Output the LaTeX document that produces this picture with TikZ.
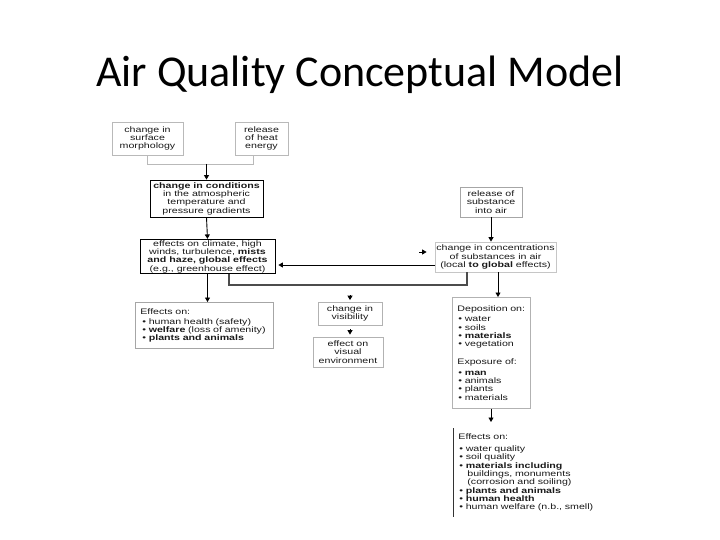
\documentclass[tikz,border=0pt]{standalone}
\usepackage{fontspec}
\setmainfont{Liberation Sans}
\newfontfamily\boxfont[FakeStretch=1.33]{Liberation Sans}
\newfontfamily\titlefont{Carlito}
\usetikzlibrary{arrows.meta}
\begin{document}
\begin{tikzpicture}[x=1pt,y=-1pt,
  box/.style={draw, line width=0.8pt, font={\boxfont\fontsize{8pt}{8.3pt}\selectfont}, align=center, inner sep=1pt, text=black!90},
  lbox/.style={box, align=left, anchor=north west, inner xsep=5pt},
  arr/.style={-{Triangle[length=4.5pt,width=5pt]}, line width=0.9pt, black},
  bracket/.style={line width=1.2pt, black!70},
  pale/.style={line width=0.9pt, gray!55}]
\useasboundingbox (0,0) rectangle (720,540);

\node[font={\titlefont\fontsize{44pt}{52pt}\selectfont}, anchor=base] (title) at (360,87) {Air Quality Conceptual Model};

% left column
\node[box, draw=gray!55, minimum width=71pt, minimum height=33pt] (surf) at (147.5,138.5) {change in\\surface\\morphology};
\node[box, draw=gray!55, minimum width=53pt, minimum height=33pt] (heat) at (261.5,138.5) {release\\of heat\\energy};
\node[box, minimum width=113pt, minimum height=37pt] (cond) at (206.5,198.5) {{\bfseries change in conditions}\\in the atmospheric\\temperature and\\pressure gradients};
\node[box, minimum width=135pt, minimum height=33pt] (clim) at (207.5,256.5) {effects on climate, high\\winds, turbulence, {\bfseries mists}\\{\bfseries and haze, global effects}\\(e.g., greenhouse effect)};
\node[lbox, draw=gray!70, text width=128pt, minimum height=46pt] (eff1) at (135,302) {Effects on:\\[2pt]\hspace*{2pt}• human health (safety)\\\hspace*{2pt}• {\bfseries welfare} (loss of amenity)\\\hspace*{2pt}• {\bfseries plants and animals}};

% middle column
\node[box, draw=gray!60, minimum width=64pt, minimum height=23pt] (vis) at (350,313.5) {change in\\visibility};
\node[box, draw=gray!60, minimum width=70pt, minimum height=30pt] (veff) at (348,352) {effect on\\visual\\environment};

% right column
\node[box, draw=gray!70, minimum width=62pt, minimum height=30pt] (rel) at (491,202) {release of\\substance\\into air};
\node[box, draw=gray!45, minimum width=121pt, minimum height=30pt] (conc) at (495.5,257) {change in concentrations\\of substances in air\\(local {\bfseries to global} effects)};
\node[lbox, draw=gray!60, text width=68pt, minimum height=111pt] (dep) at (452,297) {Deposition on:\\[2pt]\hspace*{1pt}• water\\\hspace*{1pt}• soils\\\hspace*{1pt}• {\bfseries materials}\\\hspace*{1pt}• vegetation\\[10pt]Exposure of:\\[2pt]\hspace*{1pt}• {\bfseries man}\\\hspace*{1pt}• animals\\\hspace*{1pt}• plants\\\hspace*{1pt}• materials};
\node[lbox, draw=none, text width=135pt, minimum height=88pt] (eff3) at (453,428) {Effects on:\\[4pt]\hspace*{1pt}• water quality\\\hspace*{1pt}• soil quality\\\hspace*{1pt}• {\bfseries materials including}\\\hspace*{9pt}buildings, monuments\\\hspace*{9pt}(corrosion and soiling)\\\hspace*{1pt}• {\bfseries plants and animals}\\\hspace*{1pt}• {\bfseries human health}\\\hspace*{1pt}• human welfare (n.b., smell)};
\draw[line width=0.9pt, black!80] (eff3.north west) -- (eff3.south west);

% helper coordinates
\coordinate (j1) at (206.5,164);
\coordinate (hx) at (253,0);
\coordinate (lk) at (0,265);
\coordinate (ptr) at (419,252);
\coordinate (bx1) at (229,0);
\coordinate (bj) at (350,285);
\coordinate (bx2) at (467,0);
\coordinate (dx) at (498,0);
\coordinate (ex) at (491,0);

% connectors
\draw[pale] (surf.south) |- (hx |- j1) -- (heat.south -| hx);
\draw[arr] (j1) -- (cond.north);
\draw[arr] (cond.south) -- (clim.north);
\draw[arr] (clim.south) -- (eff1.north -| clim.south);
\draw[arr, shorten >=3pt] (conc.west |- lk) -- (clim.east |- lk);
\draw[arr, shorten >=8pt] (ptr) -- (conc.west |- ptr);
\draw[arr] (rel.south) -- (conc.north -| rel.south);
\draw[bracket] (clim.south -| bx1) |- (bj) -| (conc.south -| bx2);
\draw[arr, shorten <=10pt, shorten >=1.5pt] (bj) -- (vis.north);
\draw[arr, shorten <=4pt, shorten >=2pt] (vis.south) -- (veff.north -| vis.south);
\draw[arr] (conc.south -| dx) -- (dep.north -| dx);
\draw[arr, shorten >=6pt] (dep.south -| ex) -- (eff3.north -| ex);
\end{tikzpicture}
\end{document}
